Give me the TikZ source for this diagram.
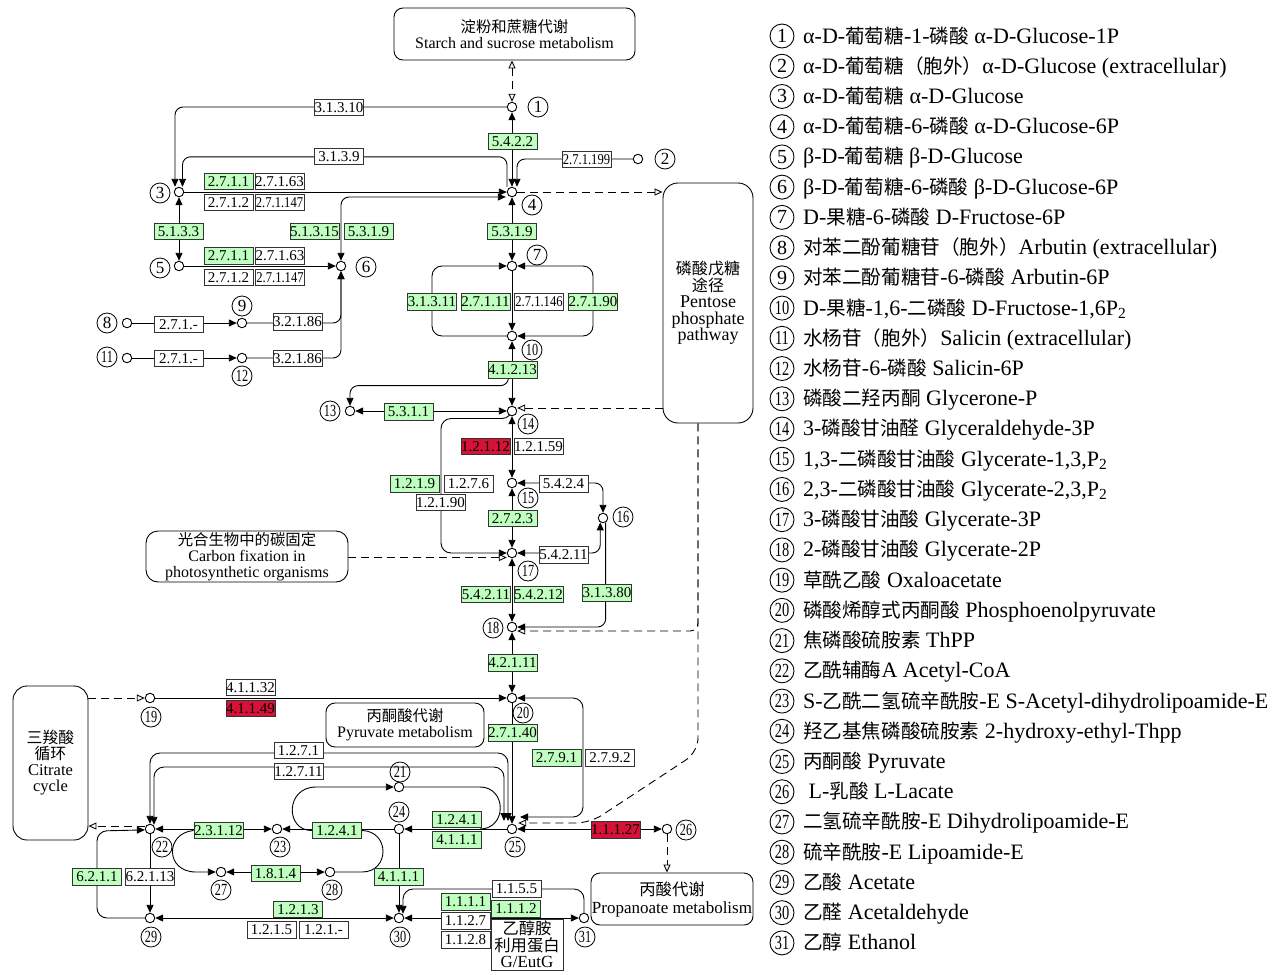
\documentclass[tikz,border=0pt]{standalone}
\usepackage{fontspec}
\usepackage{graphicx}
\setmainfont{Liberation Serif}
\newfontfamily\cjkfont{Noto Sans CJK SC}[Scale=0.89]
\newfontfamily\cjkmfont{Noto Sans CJK SC}[Scale=0.96]
\newcommand{\zh}[1]{{\cjkfont #1}}
\newcommand{\zhm}[1]{{\cjkmfont #1}}
\newcommand{\sq}[1]{\scalebox{0.84}[1]{#1}}
\newcommand{\cn}[1]{\ifnum#1>9 \scalebox{0.72}[1]{#1}\else#1\fi}
\usetikzlibrary{arrows.meta,backgrounds,calc}
\definecolor{eg}{RGB}{191,255,191}
\definecolor{er}{RGB}{215,18,55}
\newcommand{\lrow}[2]{%
 \node[lcirc] (K#1) at (782,{36+(#1-1)*30.23}) {\cn{#1}};
 \node[ltext] (L#1) at (803,{36+(#1-1)*30.23+7}) {#2};}
\begin{document}
\begin{tikzpicture}[x=1pt,y=-1pt,
 cpd/.style={circle,draw,line width=0.9pt,fill=white,inner sep=0pt,minimum size=9.5pt},
 cnum/.style={circle,draw,line width=0.8pt,inner sep=0pt,minimum size=20pt,font=\fontsize{17}{17}\selectfont},
 ec/.style={draw=black!80,line width=0.8pt,fill=white,inner sep=0pt,minimum height=16.5pt,minimum width=49pt,font=\fontsize{15}{15}\selectfont},
 ecg/.style={ec,fill=eg},
 ecr/.style={ec,fill=er},
 mapbox/.style={draw,line width=0.9pt,rounded corners=9pt,fill=white,align=center,inner sep=0pt,font=\fontsize{16}{16.5}\selectfont},
 conn/.style={line width=0.9pt,draw=black},
 >={Triangle[length=8pt,width=7pt]},
 opt/.style={-{Triangle[open,length=8pt,width=7pt]}},
 optt/.style={{Triangle[open,length=8pt,width=7pt]}-{Triangle[open,length=8pt,width=7pt]}},
 dsh/.style={dash pattern=on 8pt off 5pt},
 lcirc/.style={circle,draw,line width=0.9pt,inner sep=0pt,minimum size=24pt,font=\fontsize{20}{20}\selectfont},
 ltext/.style={anchor=base west,inner sep=0pt,font=\fontsize{22}{22}\selectfont}]
\useasboundingbox (0,0) rectangle (1286,975);

% ---------- map boxes ----------
\node[mapbox,minimum width=241pt,minimum height=52pt] (starch) at (514.5,34) {\zhm{淀粉和蔗糖代谢}\\Starch and sucrose metabolism};
\node[mapbox,rounded corners=15pt,minimum width=90pt,minimum height=240pt,font=\fontsize{18}{16.5}\selectfont] (pentose) at (708,303) {\zh{磷酸戊糖}\\\zh{途径}\\Pentose\\phosphate\\pathway};
\node[mapbox,rounded corners=12pt,minimum width=202pt,minimum height=51pt,font=\fontsize{16}{16}\selectfont] (carbon) at (247,556.5) {\zhm{光合生物中的碳固定}\\Carbon fixation in\\photosynthetic organisms};
\node[mapbox,rounded corners=14pt,minimum width=75pt,minimum height=154pt,font=\fontsize{16.5}{16}\selectfont] (citrate) at (50.5,763) {\zhm{三羧酸}\\\zhm{循环}\\Citrate\\cycle};
\node[mapbox,minimum width=158pt,minimum height=44pt] (pyr) at (405,725) {\zhm{丙酮酸代谢}\\Pyruvate metabolism};
\node[mapbox,minimum width=162pt,minimum height=52pt,font=\fontsize{17}{18}\selectfont] (prop) at (672,899) {\zhm{丙酸代谢}\\Propanoate metabolism};
\node[ec,minimum width=72pt,minimum height=51pt,align=center,font=\fontsize{17}{16.5}\selectfont] (eutg) at (527,944.5) {\zhm{乙醇胺}\\\zhm{利用蛋白}\\G/EutG};

% ---------- compounds ----------
\node[cpd] (c1) at (512,107) {};
\node[cpd] (c2) at (638,159) {};
\node[cpd] (c3) at (179,192) {};
\node[cpd] (c4) at (512,192) {};
\node[cpd] (c5) at (179,266) {};
\node[cpd] (c6) at (341,266) {};
\node[cpd] (c7) at (512,266) {};
\node[cpd] (c8) at (127,323) {};
\node[cpd] (c9) at (242,323) {};
\node[cpd] (c10) at (512,336) {};
\node[cpd] (c11) at (127,358) {};
\node[cpd] (c12) at (242,358) {};
\node[cpd] (c13) at (350,411) {};
\node[cpd] (c14) at (512,411) {};
\node[cpd] (c15) at (512,483) {};
\node[cpd] (c16) at (603,518) {};
\node[cpd] (c17) at (512,553) {};
\node[cpd] (c18) at (512,627) {};
\node[cpd] (c19) at (150,698) {};
\node[cpd] (c20) at (512,698) {};
\node[cpd] (c21) at (399,787) {};
\node[cpd] (c22) at (150,829) {};
\node[cpd] (c23) at (277,829) {};
\node[cpd] (c24) at (399,829) {};
\node[cpd] (c25) at (512,829) {};
\node[cpd] (c26) at (667,829) {};
\node[cpd] (c27) at (221,872) {};
\node[cpd] (c28) at (330,872) {};
\node[cpd] (c29) at (150,918) {};
\node[cpd] (c30) at (399,918) {};
\node[cpd] (c31) at (584,918) {};

% ---------- number labels ----------
\node[cnum] (n1) at (538,107) {1};
\node[cnum] (n2) at (665,159) {2};
\node[cnum] (n3) at (160,193) {3};
\node[cnum] (n4) at (532,205) {4};
\node[cnum] (n5) at (160,268) {5};
\node[cnum] (n6) at (366,267) {6};
\node[cnum] (n7) at (537,255) {7};
\node[cnum] (n8) at (107,323) {8};
\node[cnum] (n9) at (242,306) {9};
\node[cnum] (n10) at (532,350) {\cn{10}};
\node[cnum] (n11) at (107,357) {\cn{11}};
\node[cnum] (n12) at (242,376) {\cn{12}};
\node[cnum] (n13) at (330,411) {\cn{13}};
\node[cnum] (n14) at (528,424) {\cn{14}};
\node[cnum] (n15) at (528,498) {\cn{15}};
\node[cnum] (n16) at (623,517) {\cn{16}};
\node[cnum] (n17) at (528,571) {\cn{17}};
\node[cnum] (n18) at (493,628) {\cn{18}};
\node[cnum] (n19) at (151,717) {\cn{19}};
\node[cnum] (n20) at (523,713) {\cn{20}};
\node[cnum] (n21) at (400,772) {\cn{21}};
\node[cnum] (n22) at (162,847) {\cn{22}};
\node[cnum] (n23) at (280,847) {\cn{23}};
\node[cnum] (n24) at (399,812) {\cn{24}};
\node[cnum] (n25) at (515,847) {\cn{25}};
\node[cnum] (n26) at (686,830) {\cn{26}};
\node[cnum] (n27) at (221,890) {\cn{27}};
\node[cnum] (n28) at (332,890) {\cn{28}};
\node[cnum] (n29) at (151,937) {\cn{29}};
\node[cnum] (n30) at (400,937) {\cn{30}};
\node[cnum] (n31) at (585,937) {\cn{31}};

% ---------- enzyme boxes ----------
\node[ec]  (e31310) at (339,107.5) {3.1.3.10};
\node[ecg] (e5422) at (512.5,141.5) {5.4.2.2};
\node[ec]  (e3139) at (339,156.5) {3.1.3.9};
\node[ec]  (e271199) at (586.5,159.5) {\sq{2.7.1.199}};
\node[ecg] (e2711a) at (228.5,181.5) {2.7.1.1};
\node[ec]  (e27163a) at (279.5,181.5) {2.7.1.63};
\node[ec]  (e2712a) at (228.5,202.5) {2.7.1.2};
\node[ec]  (e271147a) at (279.5,202.5) {\sq{2.7.1.147}};
\node[ecg] (e5133) at (178.5,231.5) {5.1.3.3};
\node[ecg] (e51315) at (314.5,231.5) {5.1.3.15};
\node[ecg] (e5319a) at (368.5,231.5) {5.3.1.9};
\node[ecg] (e5319b) at (512,231.5) {5.3.1.9};
\node[ecg] (e2711b) at (228.5,256) {2.7.1.1};
\node[ec]  (e27163b) at (280,256) {2.7.1.63};
\node[ec]  (e2712b) at (228.5,277.5) {2.7.1.2};
\node[ec]  (e271147b) at (280,277.5) {\sq{2.7.1.147}};
\node[ec]  (e271a) at (178.5,324.5) {2.7.1.-};
\node[ec]  (e32186a) at (297.5,322) {3.2.1.86};
\node[ec]  (e271b) at (178.5,358.5) {2.7.1.-};
\node[ec]  (e32186b) at (297.5,358.5) {3.2.1.86};
\node[ecg] (e31311) at (432,302) {3.1.3.11};
\node[ecg] (e27111) at (485.5,302) {2.7.1.11};
\node[ec]  (e271146) at (539,302) {\sq{2.7.1.146}};
\node[ecg] (e27190) at (593,302) {2.7.1.90};
\node[ecg] (e41213) at (512.5,370) {4.1.2.13};
\node[ecg] (e5311) at (408.5,412) {5.3.1.1};
\node[ecr] (e12112) at (485.5,446.5) {1.2.1.12};
\node[ec]  (e12159) at (538.5,446.5) {1.2.1.59};
\node[ec]  (e5424) at (563.5,484) {5.4.2.4};
\node[ecg] (e1219) at (414.5,484) {1.2.1.9};
\node[ec]  (e1276) at (468.5,484) {1.2.7.6};
\node[ec]  (e12190) at (440.5,502.5) {1.2.1.90};
\node[ecg] (e2723) at (512.5,518.5) {2.7.2.3};
\node[ec]  (e54211a) at (563.5,555) {5.4.2.11};
\node[ecg] (e54211b) at (486,594.5) {5.4.2.11};
\node[ecg] (e54212) at (538.5,594.5) {5.4.2.12};
\node[ecg] (e31380) at (607,593) {3.1.3.80};
\node[ecg] (e42111) at (512.5,663) {4.2.1.11};
\node[ec]  (e41132) at (250.5,687.5) {4.1.1.32};
\node[ecr] (e41149) at (250.5,708.5) {4.1.1.49};
\node[ecg] (e27140) at (512.5,733) {2.7.1.40};
\node[ecg] (e2791) at (556.5,758) {2.7.9.1};
\node[ec]  (e2792) at (610,758) {2.7.9.2};
\node[ec]  (e1271) at (298.5,750.5) {1.2.7.1};
\node[ec]  (e12711) at (298.5,771.5) {1.2.7.11};
\node[ecg] (e1241a) at (457,819.5) {1.2.4.1};
\node[ecg] (e4111a) at (457,840) {4.1.1.1};
\node[ecr] (e11127) at (615.5,830) {1.1.1.27};
\node[ecg] (e23112) at (218.5,830.5) {2.3.1.12};
\node[ecg] (e1241b) at (337,830.5) {1.2.4.1};
\node[ecg] (e1814) at (275.5,873.5) {1.8.1.4};
\node[ecg] (e6211) at (97,877) {6.2.1.1};
\node[ec]  (e62113) at (150,877) {6.2.1.13};
\node[ecg] (e4111b) at (398.5,877) {4.1.1.1};
\node[ecg] (e1213) at (298,909.5) {1.2.1.3};
\node[ec]  (e1215) at (271.5,930) {1.2.1.5};
\node[ec]  (e121x) at (323.5,930) {1.2.1.-};
\node[ec]  (e1155) at (516.5,889) {1.1.5.5};
\node[ecg] (e1111) at (465.5,902) {1.1.1.1};
\node[ecg] (e1112) at (516,909) {1.1.1.2};
\node[ec]  (e1127) at (465.5,921) {1.1.2.7};
\node[ec]  (e1128) at (465.5,940) {1.1.2.8};

% ---------- legend ----------
\lrow{1}{α-D-\zh{葡萄糖}-1-\zh{磷酸} α-D-Glucose-1P}
\lrow{2}{α-D-\zh{葡萄糖（胞外）}α-D-Glucose (extracellular)}
\lrow{3}{α-D-\zh{葡萄糖} α-D-Glucose}
\lrow{4}{α-D-\zh{葡萄糖}-6-\zh{磷酸} α-D-Glucose-6P}
\lrow{5}{β-D-\zh{葡萄糖} β-D-Glucose}
\lrow{6}{β-D-\zh{葡萄糖}-6-\zh{磷酸} β-D-Glucose-6P}
\lrow{7}{D-\zh{果糖}-6-\zh{磷酸} D-Fructose-6P}
\lrow{8}{\zh{对苯二酚葡糖苷（胞外）}Arbutin (extracellular)}
\lrow{9}{\zh{对苯二酚葡糖苷}-6-\zh{磷酸} Arbutin-6P}
\lrow{10}{D-\zh{果糖}-1,6-\zh{二磷酸} D-Fructose-1,6P\textsubscript{2}}
\lrow{11}{\zh{水杨苷（胞外）}Salicin (extracellular)}
\lrow{12}{\zh{水杨苷}-6-\zh{磷酸} Salicin-6P}
\lrow{13}{\zh{磷酸二羟丙酮} Glycerone-P}
\lrow{14}{3-\zh{磷酸甘油醛} Glyceraldehyde-3P}
\lrow{15}{1,3-\zh{二磷酸甘油酸} Glycerate-1,3,P\textsubscript{2}}
\lrow{16}{2,3-\zh{二磷酸甘油酸} Glycerate-2,3,P\textsubscript{2}}
\lrow{17}{3-\zh{磷酸甘油酸} Glycerate-3P}
\lrow{18}{2-\zh{磷酸甘油酸} Glycerate-2P}
\lrow{19}{\zh{草酰乙酸} Oxaloacetate}
\lrow{20}{\zh{磷酸烯醇式丙酮酸} Phosphoenolpyruvate}
\lrow{21}{\zh{焦磷酸硫胺素} ThPP}
\lrow{22}{\zh{乙酰辅酶}A Acetyl-CoA}
\lrow{23}{S-\zh{乙酰二氢硫辛酰胺}-E S-Acetyl-dihydrolipoamide-E}
\lrow{24}{\zh{羟乙基焦磷酸硫胺素} 2-hydroxy-ethyl-Thpp}
\lrow{25}{\zh{丙酮酸} Pyruvate}
\lrow{26}{\ L-\zh{乳酸} L-Lacate}
\lrow{27}{\zh{二氢硫辛酰胺}-E Dihydrolipoamide-E}
\lrow{28}{\zh{硫辛酰胺}-E Lipoamide-E}
\lrow{29}{\zh{乙酸} Acetate}
\lrow{30}{\zh{乙醛} Acetaldehyde}
\lrow{31}{\zh{乙醇} Ethanol}

% ---------- connectors ----------
\begin{scope}[on background layer]
\fill[white] (0,0) rectangle (1286,975);
% top
\draw[conn,dsh,optt] (starch.south -| c1) -- (c1);
\draw[conn,<->] (c1) -- (c4);
\draw[conn,->,rounded corners=8pt] (c1) -| ($(c3.north)+(-4,0)$);
\draw[conn,->,rounded corners=8pt] ($(c4.north)+(-5,0)$) -- ++(0,-30) -| ($(c3.north)+(3.5,0)$);
\draw[conn,->,rounded corners=8pt] (c2) -| ($(c4.north)+(5,0)$);
\draw[conn,->] (c3) -- (c4);
\draw[conn,<->,rounded corners=8pt] ($(c4.west)+(-1,5)$) -| (c6);
\draw[conn,<->] (c3) -- (c5);
\draw[conn,->] (c5) -- (c6);
\draw[conn,->] (c8) -- (c9);
\draw[conn,->] (c11) -- (c12);
\draw[conn,->,rounded corners=8pt] (c9) -| (c6);
\draw[conn,->,rounded corners=8pt] (c12) -| (c6);
\draw[conn,dsh,opt] (c4) -- (c4 -| pentose.west);
\draw[conn,<->] (c4) -- (c7);
\draw[conn,->] (c7) -- (c10);
\draw[conn,->,rounded corners=10pt] (c10) -- (c10 -| e31311) -- (c7 -| e31311) -- (c7);
\draw[conn,<->,rounded corners=10pt] (c7) -- (c7 -| e27190) -- (c10 -| e27190) -- (c10);
\draw[conn,<->] (c10) -- (c14);
\draw[conn,->,rounded corners=8pt] ($(e41213.south)+(-4,0)$) -- ++(0,7) -| (c13);
\draw[conn,<->] (c14) -- (c13);
\draw[conn,dsh,opt] ($(c14 -| pentose.west)+(0,-3)$) -- ($(c14.east)+(0,-3)$);
% glycolysis lower part
\draw[conn,<->] (c14) -- (c15);
\draw[conn,->,rounded corners=10pt] (c14.south) -- (512,418.5) -- (441,418.5) -- (441,553) -- (c17);
\draw[conn,dsh,opt] ($(carbon.east)+(0,1)$) -- ($(carbon.east -| c17.west)+(0,1)$);
\draw[conn,<->] (c15) -- (c17);
\draw[conn,<->,rounded corners=8pt] (c15) -| (c16);
\draw[conn,<->,rounded corners=8pt] (c17) -| (c16.238);
\draw[conn,->,rounded corners=8pt] (c16.300) |- (c18);
\draw[conn,<->] (c17) -- (c18);
\draw[conn,dsh,opt,rounded corners=8pt] ($(pentose.south)+(-10,0)$) |- ($(c18.east)+(0,4)$);
\draw[conn,dsh,opt,rounded corners=14pt] ($(pentose.south)+(-10,0)$) -- (698,752) -- (590,823) -- ($(c25.east)+(1,-6)$);
\draw[conn,<->] (c18) -- (c20);
% pyruvate region
\draw[conn,dsh,opt] (c19 -| citrate.east) -- (c19);
\draw[conn,->] (c19) -- (c20);
\draw[conn,->] (c20) -- (c25);
\draw[conn,<->,rounded corners=10pt] (c20) -- (583,698) -- (583,817) -- ($(c25)+(8,-12)$);
\draw[conn,<->,rounded corners=10pt] ($(c25)+(-4,-8)$) -- (508,753) -- (150,753) -- (c22.north);
\draw[conn,<->,rounded corners=10pt] ($(c25)+(-8,-8)$) -- (504,767) -- (154,767) -- ($(c22.north)+(4,1)$);
\draw[conn,dsh,opt] ($(c22.west)+(0,-3)$) -- ($(citrate.east |- c22)+(0,-3)$);
\draw[conn,<->] (c23) -- (c22);
\draw[conn,->] (e23112.west) .. controls (165,833) and (165,872) .. (196,872) -- (c27);
\draw[conn,->] (c24) -- (c23);
\draw[conn] (e1241b.east) .. controls (390,831) and (390,872) .. (362,872) -- (c28);
\draw[conn,->] (e1241b.west) .. controls (285,831) and (285,787) .. (316,787) -- (c21);
\draw[conn,<->] (c27) -- (c28);
\draw[conn,->] (c25) -- (c24);
\draw[conn] (c21) -- (480,787) .. controls (507,787) and (507,829) .. (480,829);
\draw[conn,<->] (c25) -- (c26);
\draw[conn,dsh,opt] (c26) -- (c26 |- prop.north);
\draw[conn,->] (c24) -- (c30);
\draw[conn,->] (c22) -- (c29);
\draw[conn,->,rounded corners=10pt] (c29) -- (97,918) -- (97,831) -- (c22.190);
\draw[conn,<->] (c29) -- (c30);
\draw[conn,<->] (c30) -- (c31);
\draw[conn,->,rounded corners=10pt] (c31) -- (584,889) -- (403,889) -- ($(c30.north)+(4,1)$);
\end{scope}
\end{tikzpicture}
\end{document}
